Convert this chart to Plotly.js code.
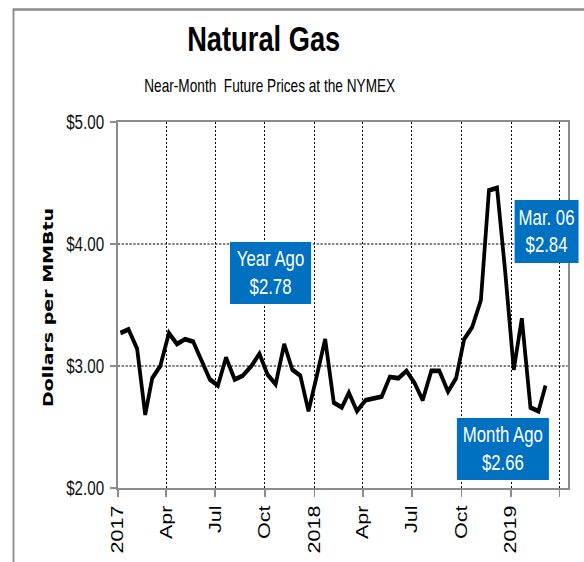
<!DOCTYPE html>
<html>
<head>
<meta charset="utf-8">
<script src="https://cdn.plot.ly/plotly-3.0.1.min.js"></script>
<style>
  html, body { margin: 0; padding: 0; background: #fff; overflow: hidden; }
  #wrap { width: 584px; height: 562px; overflow: hidden; position: relative; }
  #chart { width: 749px; height: 562px; transform: scaleX(0.7797); transform-origin: 0 0; }
</style>
</head>
<body>
<div id="wrap"><div id="chart"></div></div>
<script>
// ---- data (semi-monthly near-month futures, $/MMBtu) ----
const dates = [
  "2017-01-06","2017-01-21","2017-02-06","2017-02-21","2017-03-06","2017-03-21",
  "2017-04-06","2017-04-21","2017-05-06","2017-05-21","2017-06-06","2017-06-21",
  "2017-07-06","2017-07-21","2017-08-06","2017-08-21","2017-09-06","2017-09-21",
  "2017-10-06","2017-10-21","2017-11-06","2017-11-21","2017-12-06","2017-12-21",
  "2018-01-06","2018-01-21","2018-02-06","2018-02-21","2018-03-06","2018-03-21",
  "2018-04-06","2018-04-21","2018-05-06","2018-05-21","2018-06-06","2018-06-21",
  "2018-07-06","2018-07-21","2018-08-06","2018-08-21","2018-09-06","2018-09-21",
  "2018-10-06","2018-10-21","2018-11-06","2018-11-21","2018-12-06","2018-12-21",
  "2019-01-06","2019-01-21","2019-02-06","2019-02-21","2019-03-06"
];
const prices = [
  3.27, 3.30, 3.14, 2.60, 2.90, 3.00,
  3.27, 3.18, 3.22, 3.20, 3.04, 2.89,
  2.84, 3.07, 2.89, 2.92, 3.00, 3.10,
  2.93, 2.85, 3.18, 2.97, 2.92, 2.63,
  2.93, 3.22, 2.70, 2.66, 2.78, 2.63,
  2.72, 2.74, 2.75, 2.91, 2.90, 2.96,
  2.86, 2.72, 2.96, 2.96, 2.79, 2.90,
  3.22, 3.32, 3.54, 4.44, 4.46, 3.78,
  2.97, 3.39, 2.66, 2.63, 2.84
];
const tickDates = ["2017-01-01","2017-04-01","2017-07-01","2017-10-01","2018-01-01",
                   "2018-04-01","2018-07-01","2018-10-01","2019-01-01","2019-04-01"];
const tickLabels = ["2017","Apr","Jul","Oct","2018","Apr","Jul","Oct","2019",""];
const yTicks = [2, 3, 4, 5];
const xRange = ["2017-01-01", "2019-04-16"];
const yRange = [2, 5];
const titleText = "Natural Gas";
const subtitleText = "Near-Month\u00a0 Future Prices at the NYMEX";
const yTitleText = "Dollars per MMBtu";
const boxTexts = ["Year Ago<br>$2.78", "Mar. 06<br>$2.84", "Month Ago<br>$2.66"];

const FONT = "Liberation Sans, Arial, sans-serif";
const BLUE = "#0070C0";
const GRAY = "#8c8c8c";

const trace = {
  x: dates, y: prices, type: "scatter", mode: "lines",
  line: { color: "#000", width: 4.8, shape: "linear" },
  hoverinfo: "skip"
};

function box(text, x, y, w, h) {
  return {
    text: text, xref: "paper", yref: "paper", x: x, y: y,
    xanchor: "center", yanchor: "middle", showarrow: false,
    width: w, height: h, bgcolor: BLUE, borderpad: 0, borderwidth: 0,
    align: "center", valign: "middle",
    font: { family: FONT, size: 21.5, color: "#fff" }
  };
}

const layout = {
  width: 749, height: 562,
  margin: { l: 151.3, r: 20.5, t: 122, b: 74, pad: 0 },
  paper_bgcolor: "#fff", plot_bgcolor: "#fff",
  showlegend: false,
  xaxis: {
    type: "date", range: xRange,
    tickmode: "array", tickvals: tickDates, ticktext: tickLabels,
    tickangle: -90, ticks: "outside", ticklen: 7, tickwidth: 2, tickcolor: GRAY,
    tickfont: { family: FONT, size: 21.5, color: "#000" },
    showgrid: true, gridcolor: "#000", gridwidth: 1.3, griddash: "2px,2px",
    showline: true, linecolor: GRAY, linewidth: 2, mirror: true,
    zeroline: false, fixedrange: true
  },
  yaxis: {
    range: yRange, tickmode: "array", tickvals: yTicks, tickformat: "$.2f",
    ticks: "outside", ticklen: 8, tickwidth: 1.5, tickcolor: GRAY,
    ticklabelstandoff: 3,
    tickfont: { family: FONT, size: 19.5, color: "#111" },
    showgrid: true, gridcolor: "#000", gridwidth: 1.1, griddash: "3px,2px",
    showline: true, linecolor: GRAY, linewidth: 2.5, mirror: true,
    zeroline: false, fixedrange: true
  },
  shapes: [
    { type: "path", xref: "paper", yref: "paper",
      path: "M -0.2317,-0.3 L -0.2317,1.3073 L 1.3,1.3073",
      line: { color: GRAY, width: 2.4 } }
  ],
  annotations: [
    { text: "<b>" + titleText + "</b>", xref: "paper", yref: "paper",
      x: 0.3233, y: 1.228, xanchor: "center", yanchor: "middle", showarrow: false,
      font: { family: FONT, size: 35, color: "#000" } },
    { text: subtitleText, xref: "paper", yref: "paper",
      x: 0.3378, y: 1.0973, xanchor: "center", yanchor: "middle", showarrow: false,
      font: { family: FONT, size: 17.5, color: "#000" } },
    { text: "<b>" + yTitleText + "</b>", xref: "paper", yref: "paper",
      x: -0.1555, y: 0.492, xanchor: "center", yanchor: "middle", showarrow: false,
      textangle: -90,
      font: { family: "DejaVu Sans, Verdana, sans-serif", size: 19, color: "#000" } },
    box(boxTexts[0], 0.3389, 0.5877, 104, 62),
    box(boxTexts[1], 0.9534, 0.7014, 82, 63),
    box(boxTexts[2], 0.856, 0.1052, 118, 62)
  ]
};

Plotly.newPlot("chart", [trace], layout, { displayModeBar: false, staticPlot: true });
</script>
</body>
</html>
